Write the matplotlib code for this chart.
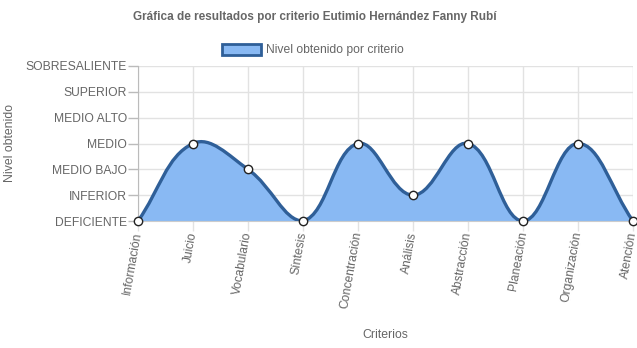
import matplotlib
matplotlib.use("Agg")
import matplotlib.pyplot as plt
from matplotlib.path import Path
from matplotlib.patches import PathPatch, Patch
import numpy as np

plt.rcParams['font.family'] = ['Liberation Sans', 'DejaVu Sans']

title = "Gráfica de resultados por criterio Eutimio Hernández Fanny Rubí"
series_label = "Nivel obtenido por criterio"
criterios = ["Información", "Juicio", "Vocabulario", "Síntesis", "Concentración",
             "Análisis", "Abstracción", "Planeación", "Organización", "Atención"]
niveles = ["DEFICIENTE", "INFERIOR", "MEDIO BAJO", "MEDIO", "MEDIO ALTO",
           "SUPERIOR", "SOBRESALIENTE"]
valores = [0, 3, 2, 0, 3, 1, 3, 0, 3, 0]

W, H, DPI = 637, 348, 100
fig = plt.figure(figsize=(W / DPI, H / DPI), dpi=DPI)
L, R, T, B = 138, 633, 66, 221
ax = fig.add_axes([L / W, 1 - B / H, (R - L) / W, (B - T) / H])

n = len(criterios)
ymax = len(niveles) - 1
ax.set_xlim(0, n - 1)
ax.set_ylim(0, ymax)

# pixel scale factors for spline control points
sx = (R - L) / (n - 1)
sy = (B - T) / ymax
px = np.arange(n) * sx
py = np.array(valores, dtype=float) * sy

tension = 0.4
cprev, cnext = [], []
for i in range(n):
    p0 = (px[max(i - 1, 0)], py[max(i - 1, 0)])
    p1 = (px[i], py[i])
    p2 = (px[min(i + 1, n - 1)], py[min(i + 1, n - 1)])
    d01 = np.hypot(p1[0] - p0[0], p1[1] - p0[1])
    d12 = np.hypot(p2[0] - p1[0], p2[1] - p1[1])
    tot = d01 + d12
    s01 = d01 / tot if tot else 0
    s12 = d12 / tot if tot else 0
    fa, fb = tension * s01, tension * s12
    prv = (p1[0] - fa * (p2[0] - p0[0]), p1[1] - fa * (p2[1] - p0[1]))
    nxt = (p1[0] + fb * (p2[0] - p0[0]), p1[1] + fb * (p2[1] - p0[1]))
    clamp = lambda q: (min(max(q[0], 0), px[-1]), min(max(q[1], 0), ymax * sy))
    cprev.append(clamp(prv))
    cnext.append(clamp(nxt))

verts = [(px[0] / sx, py[0] / sy)]
codes = [Path.MOVETO]
for i in range(n - 1):
    verts += [(cnext[i][0] / sx, cnext[i][1] / sy),
              (cprev[i + 1][0] / sx, cprev[i + 1][1] / sy),
              (px[i + 1] / sx, py[i + 1] / sy)]
    codes += [Path.CURVE4] * 3

line_path = Path(verts, codes)
fill_verts = verts + [(n - 1, 0), (0, 0), verts[0]]
fill_codes = codes + [Path.LINETO, Path.LINETO, Path.CLOSEPOLY]
fill_path = Path(fill_verts, fill_codes)

fill_col = "#89b9f3"
line_col = "#2f5f98"
ax.add_patch(PathPatch(fill_path, facecolor=fill_col, edgecolor="none", zorder=2))
ax.add_patch(PathPatch(line_path, facecolor="none", edgecolor=line_col, lw=2.4, zorder=3))
ax.plot(range(n), valores, "o", ms=6, mfc="white", mec="#222222", mew=1.0,
        zorder=4, clip_on=False)

grid_col = "#e2e2e2"
ax.set_xticks(range(n))
ax.set_xticklabels(criterios, rotation=80, ha="right", va="center",
                   rotation_mode="anchor", fontsize=8.75, color="#666666")
ax.set_yticks(range(len(niveles)))
ax.set_yticklabels(niveles, fontsize=8.75, color="#666666")
ax.tick_params(axis="both", length=7, color=grid_col, width=1, pad=0.8)
ax.tick_params(axis="y", color="#bbbbbb")
ax.grid(True, color=grid_col, lw=1, zorder=0)
ax.set_axisbelow(True)
for side in ["top", "right"]:
    ax.spines[side].set_visible(False)
ax.spines["left"].set_color("#bbbbbb")
ax.spines["bottom"].set_color("#cccccc")

fig.text(315 / W, 1 - 17 / H, title, ha="center", va="center", fontsize=8.5,
         fontweight="bold", color="#666666")
fig.text(10 / W, 1 - 143 / H, "Nivel obtenido", rotation=90, ha="center",
         va="center", fontsize=8.8, color="#666666")
fig.text(385 / W, 1 - 335 / H, "Criterios", ha="center", va="center",
         fontsize=8.8, color="#666666")

handle = Patch(facecolor=fill_col, edgecolor=line_col, lw=2)
fig.legend([handle], [series_label], loc="center", bbox_to_anchor=(313 / W, 1 - 50 / H),
           frameon=False, fontsize=8.7, labelcolor="#666666", handlelength=3.2,
           handleheight=1.1, handletextpad=0.4)

fig.savefig("out.png", dpi=DPI)
